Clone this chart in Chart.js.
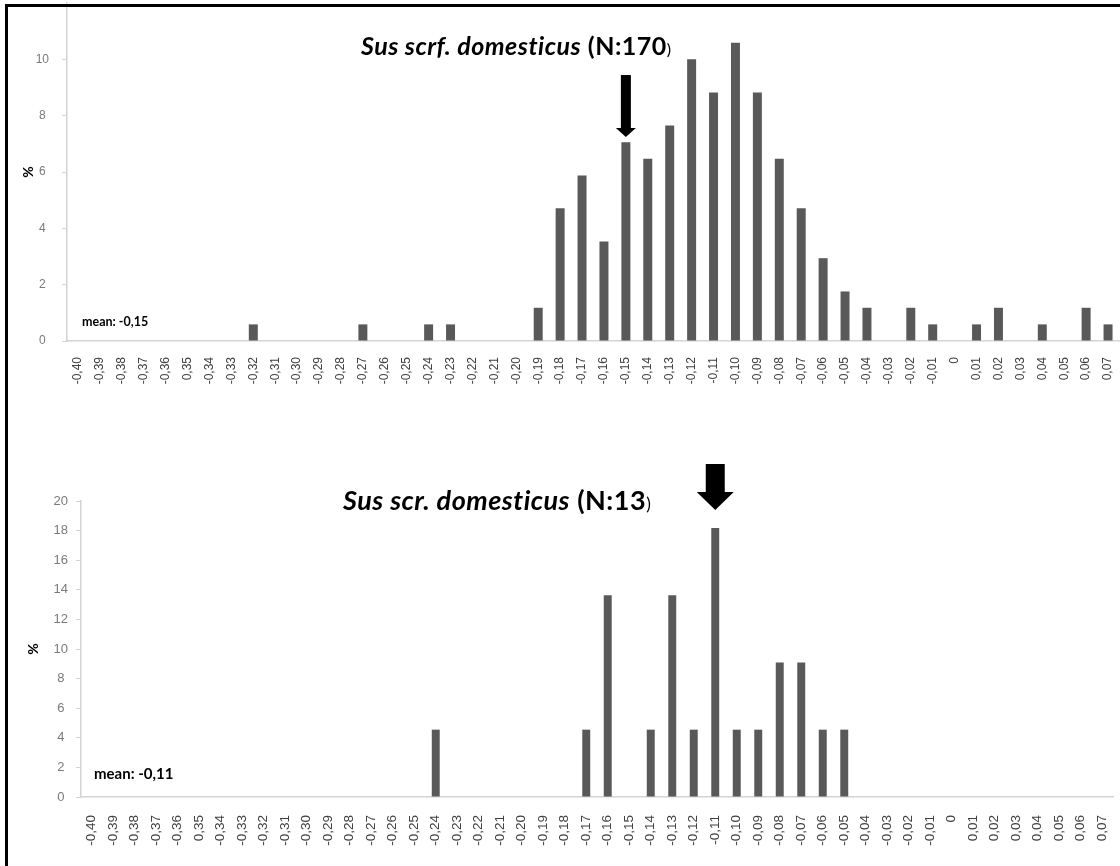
<!DOCTYPE html>
<html lang="en">
<head>
<meta charset="UTF-8">
<title>Sus scrofa domesticus</title>
<script src="https://cdn.jsdelivr.net/npm/chart.js@4"></script>
<style>
    html, body {
        margin: 0;
        padding: 0;
        background: #fff;
        overflow: hidden;
    }
    #page {
        position: relative;
        width: 1120px;
        height: 866px;
        overflow: hidden;
        background: #fff;
    }
    .wrap {
        position: absolute;
        left: 0;
    }
    .frame {
        position: absolute;
        left: 5px;
        top: 4px;
        width: 1200px;
        height: 900px;
        border-top: 3px solid #000;
        border-left: 3px solid #000;
        pointer-events: none;
        z-index: 5;
    }
    .title {
        position: absolute;
        font-family: Lato, "Liberation Sans", sans-serif;
        font-weight: bold;
        color: #000;
        white-space: nowrap;
        line-height: 1;
        letter-spacing: 0.5px;
        z-index: 3;
    }
    .title .paren {
        font-weight: normal;
        font-size: 0.65em;
    }
    .mean {
        position: absolute;
        font-family: Lato, "Liberation Sans", sans-serif;
        font-weight: bold;
        color: #000;
        white-space: nowrap;
        line-height: 1;
        z-index: 3;
    }
</style>
</head>
<body>
<div id="page">
    <div class="wrap" style="top:-22px"><canvas id="topChart" width="1139" height="423"></canvas></div>
    <div class="wrap" style="top:451px"><canvas id="bottomChart" width="1133" height="406"></canvas></div>

    <div class="title" style="left:361px; top:33px; font-size:25px"><i>Sus scrf. domesticus</i> (N:170<span class="paren">)</span></div>
    <div class="title" style="left:343px; top:486px; font-size:27px"><i>Sus scr. domesticus</i> (N:13<span class="paren">)</span></div>

    <div class="mean" style="left:82px; top:316px; font-size:12.5px">mean: -0,15</div>
    <div class="mean" style="left:94px; top:766px; font-size:15px">mean: -0,11</div>

    <div class="frame"></div>
</div>
<script>
    // Классы (значения индекса), одинаковые для обоих графиков
    const categories = [
        '-0,40', '-0,39', '-0,38', '-0,37', '-0,36', '0,35', '-0,34', '-0,33',
        '-0,32', '-0,31', '-0,30', '-0,29', '-0,28', '-0,27', '-0,26', '-0,25',
        '-0,24', '-0,23', '-0,22', '-0,21', '-0,20', '-0,19', '-0,18', '-0,17',
        '-0,16', '-0,15', '-0,14', '-0,13', '-0,12', '-0,11', '-0,10', '-0,09',
        '-0,08', '-0,07', '-0,06', '-0,05', '-0,04', '-0,03', '-0,02', '-0,01',
        '0', '0,01', '0,02', '0,03', '0,04', '0,05', '0,06', '0,07'
    ];

    // Sus scrf. domesticus (N:170), %
    const topValues = [
        0, 0, 0, 0, 0, 0, 0, 0,
        0.59, 0, 0, 0, 0, 0.59, 0, 0,
        0.59, 0.59, 0, 0, 0, 1.18, 4.71, 5.88,
        3.53, 7.06, 6.47, 7.65, 10.0, 8.82, 10.59, 8.82,
        6.47, 4.71, 2.94, 1.76, 1.18, 0, 1.18, 0.59,
        0, 0.59, 1.18, 0, 0.59, 0, 1.18, 0.59
    ];

    // Sus scr. domesticus (N:13), %
    const bottomValues = [
        0, 0, 0, 0, 0, 0, 0, 0,
        0, 0, 0, 0, 0, 0, 0, 0,
        4.55, 0, 0, 0, 0, 0, 0, 4.55,
        13.64, 0, 4.55, 13.64, 4.55, 18.18, 4.55, 4.55,
        9.09, 9.09, 4.55, 4.55, 0, 0, 0, 0,
        0, 0, 0, 0, 0, 0, 0, 0
    ];

    const topTicks = [0, 2, 4, 6, 8, 10];
    const bottomTicks = [0, 2, 4, 6, 8, 10, 12, 14, 16, 18, 20];

    const topMean = '-0,15';
    const bottomMean = '-0,11';

    // Стрелка над средним значением
    const meanArrow = {
        id: 'meanArrow',
        afterDatasetsDraw(chart, args, opts) {
            const { ctx, scales: { x, y } } = chart;
            const cx = x.getPixelForValue(categories.indexOf(opts.label));
            const tip = y.getPixelForValue(opts.tipValue);
            const top = tip - opts.length;
            const headTop = tip - opts.headLength;
            const sw = opts.shaftWidth / 2;
            const hw = opts.headWidth / 2;
            ctx.save();
            ctx.fillStyle = '#000';
            ctx.beginPath();
            ctx.moveTo(cx - sw, top);
            ctx.lineTo(cx + sw, top);
            ctx.lineTo(cx + sw, headTop);
            ctx.lineTo(cx + hw, headTop);
            ctx.lineTo(cx, tip);
            ctx.lineTo(cx - hw, headTop);
            ctx.lineTo(cx - sw, headTop);
            ctx.closePath();
            ctx.fill();
            ctx.restore();
        }
    };

    const makeChart = (id, values, cfg) => {
        return new Chart(document.getElementById(id), {
            type: 'bar',
            data: {
                labels: categories,
                datasets: [{
                    data: values,
                    backgroundColor: '#595959',
                    barPercentage: cfg.barPct,
                    categoryPercentage: 1
                }]
            },
            plugins: [meanArrow],
            options: {
                responsive: false,
                animation: false,
                events: [],
                layout: {
                    padding: { left: 0, top: cfg.padTop, right: 20, bottom: 0 }
                },
                plugins: {
                    legend: { display: false },
                    tooltip: { enabled: false },
                    meanArrow: cfg.arrow
                },
                scales: {
                    x: {
                        grid: { display: false },
                        border: { display: true, color: '#d4d4d4', width: 1.5 },
                        ticks: {
                            autoSkip: false,
                            minRotation: 90,
                            maxRotation: 90,
                            padding: cfg.xPad,
                            color: '#404040',
                            font: { family: 'Liberation Sans', size: cfg.xFont }
                        },
                        afterFit: (scale) => { scale.height = 60; }
                    },
                    y: {
                        min: 0,
                        max: cfg.max,
                        afterBuildTicks: (scale) => {
                            scale.ticks = cfg.ticks.map(v => ({ value: v }));
                        },
                        grid: {
                            display: true,
                            drawOnChartArea: false,
                            drawTicks: true,
                            tickLength: 5,
                            color: '#d4d4d4'
                        },
                        border: { display: true, color: '#d4d4d4', width: 1.5 },
                        ticks: {
                            crossAlign: 'center',
                            padding: cfg.yPad,
                            color: '#7a7a7a',
                            font: { family: 'Liberation Sans', size: cfg.yFont }
                        },
                        title: {
                            display: true,
                            text: '%',
                            color: '#000',
                            font: { family: 'Lato', weight: 'bold', size: 14 },
                            padding: { top: cfg.titlePad, bottom: 0 }
                        },
                        afterFit: (scale) => { scale.width = cfg.axisLeft; }
                    }
                }
            }
        });
    };

    makeChart('topChart', topValues, {
        barPct: 0.41, padTop: 25, max: 12, ticks: topTicks,
        xPad: 8, xFont: 12, yPad: 13, yFont: 12, titlePad: 20, axisLeft: 67,
        arrow: { label: topMean, tipValue: 7.24, length: 62, headLength: 9, shaftWidth: 10, headWidth: 20 }
    });

    makeChart('bottomChart', bottomValues, {
        barPct: 0.37, padTop: 50, max: 20, ticks: bottomTicks,
        xPad: 10, xFont: 13.5, yPad: 8, yFont: 13, titlePad: 25, axisLeft: 81,
        arrow: { label: bottomMean, tipValue: 19.39, length: 46, headLength: 18, shaftWidth: 19, headWidth: 37 }
    });
</script>
</body>
</html>
